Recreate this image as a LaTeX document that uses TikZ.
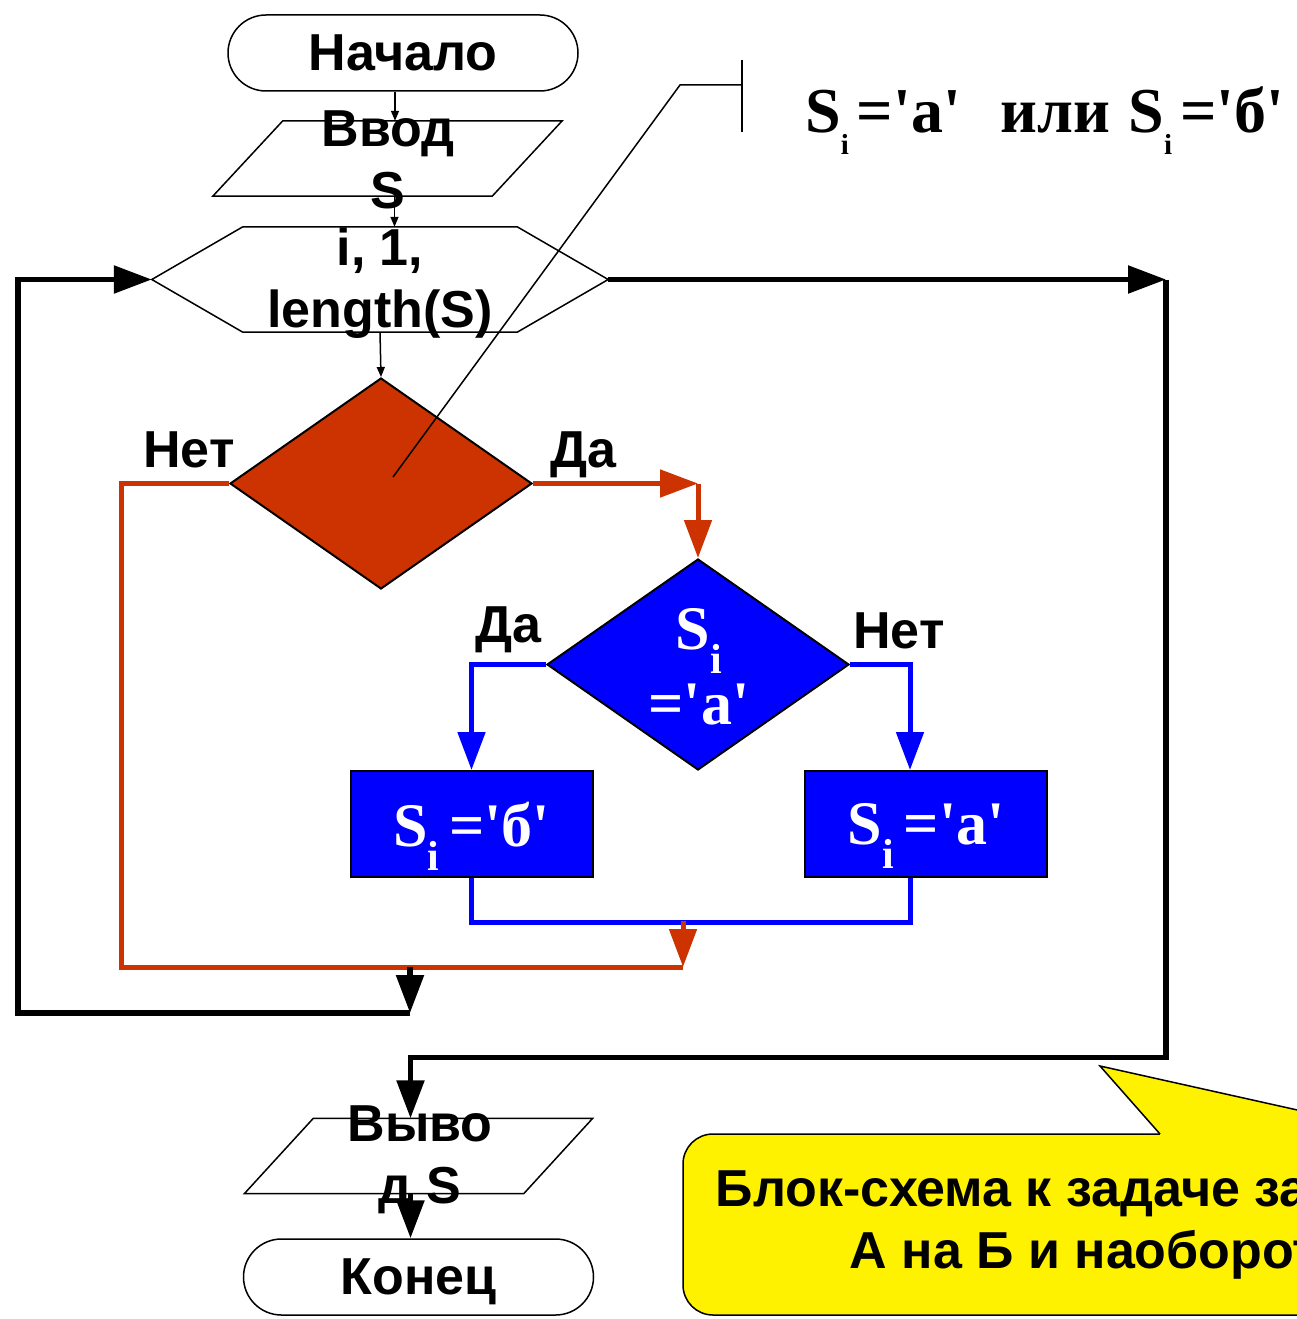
\documentclass[tikz,border=0pt]{standalone}
\usepackage{fontspec}
\setmainfont{Liberation Sans}
\newfontfamily\timesb{Liberation Serif}[Ligatures=TeXOff]
\usetikzlibrary{arrows.meta,shapes.geometric,shapes.misc,calc}
\definecolor{flowred}{HTML}{CC3300}
\definecolor{flowblue}{HTML}{0000FF}
\newcommand{\idx}[2]{\raisebox{-#2pt}{\fontsize{#1}{#1}\selectfont i}}

\begin{document}
\begin{tikzpicture}[
  x=1pt, y=-1pt,
  >={Triangle[length=38pt,width=27pt]},
  every node/.style={font=\bfseries\fontsize{52}{62}\selectfont, inner sep=0pt},
  terminal/.style={rounded rectangle, draw, line width=1.5pt, minimum width=350pt, minimum height=76pt, text depth=0pt},
  io/.style={rectangle, minimum width=279pt, minimum height=75pt},
  loopbox/.style={rectangle, minimum width=456pt, minimum height=105pt},
  outline/.style={line width=1.5pt},
  decision/.style={diamond, draw, line width=2pt, inner sep=2pt, minimum width=302pt, minimum height=211pt},
  action/.style={rectangle, draw, line width=2pt, fill=flowblue, minimum width=242pt, minimum height=106pt, text=white, font=\timesb\bfseries\fontsize{62}{75}\selectfont, text depth=0pt},
  wtext/.style={text=white, align=center, font=\timesb\bfseries\fontsize{62}{75}\selectfont},
  btext/.style={align=center},
  memo/.style={rectangle, rounded corners=30pt, draw, line width=1.5pt, fill=yellow, minimum width=802pt, minimum height=181pt, align=center},
  thinflow/.style={line width=1.5pt, -{Triangle[length=10pt,width=8pt]}},
  mainflow/.style={line width=5.5pt},
  noflow/.style={line width=5pt, draw=flowred, color=flowred},
  inflow/.style={line width=5pt, draw=flowblue, color=flowblue}
]
\clip (0,0) rectangle (1297,1319);

% blocks
\node[terminal] (start) at (403,53) {Начало};
\node[io] (inp) at (387.5,158.5) {};
\draw[outline] ([xshift=35pt]inp.north west) -- ([xshift=35pt]inp.north east)
  -- ([xshift=-35pt]inp.south east) -- ([xshift=-35pt]inp.south west) -- cycle;
\node[btext] (inptxt) at (388,160) {Ввод\\S};
\node[loopbox] (loop) at (380,279.5) {};
\draw[outline] ([xshift=91pt]loop.north west) -- ([xshift=-91pt]loop.north east) -- (loop.east)
  -- ([xshift=-91pt]loop.south east) -- ([xshift=91pt]loop.south west) -- (loop.west) -- cycle;
\node[btext] (looptxt) at (380,283) {i, 1,\\length(S)};
\node[decision, fill=flowred] (cond) at (381,483.5) {};
\node[decision, fill=flowblue] (cond2) at (698,664.5) {};
\node[wtext] (cond2txt) at (699,667) {S\idx{42}{24}\\='a'};
\node[action] (yes) at (471.5,824) {S\idx{42}{24}\hspace{10pt}='б'};
\node[action] (no) at (926,824) {S\idx{42}{24}\hspace{10pt}='a'};
\node[io] (out) at (418.5,1156) {};
\draw[outline] ([xshift=34.5pt]out.north west) -- ([xshift=34.5pt]out.north east)
  -- ([xshift=-34.5pt]out.south east) -- ([xshift=-34.5pt]out.south west) -- cycle;
\node[btext] (outtxt) at (420,1160) {Выво\\д S};
\node[terminal] (end) at (418.5,1277) {Конец};

% branch labels
\node[anchor=base] (no1) at (189,467) {Нет};
\node[anchor=base] (yes1) at (583,467) {Да};
\node[anchor=base] (yes2) at (508,642) {Да};
\node[anchor=base] (no2) at (899,648) {Нет};

% condition note
\node[anchor=base west, font=\timesb\bfseries\fontsize{64}{64}\selectfont] (note) at (805,132)
  {S\idx{29}{22}\hspace{8pt}='a'\hspace{40pt}или\hspace{18pt}S\idx{29}{22}\hspace{8pt}='б'};
\coordinate (mark) at (393,477);
\draw[outline] (mark) -- (680,85) -- (742,85);
\draw[outline] (742,60) -- (742,132);

% thin arrows
\draw[thinflow] ([xshift=-8pt]start.south) -- ([xshift=-8pt]start.south |- inp.north);
\draw[thinflow] ([xshift=7pt]inp.south) -- ([xshift=7pt]inp.south |- loop.north);
\draw[thinflow] (loop.south) -- (cond.north);

% red branch
\coordinate (merge) at (683,967);
\coordinate (bluejoin) at (683,921);
\draw[noflow,->] (cond.east) -- (cond.east -| cond2.north);
\draw[noflow,->] (cond.east -| cond2.north) -- (cond2.north);
\draw[noflow] (cond.west) -- ++(-108,0) |- (merge);

% blue branch
\draw[inflow,->] (cond2.west) -| (yes.north);
\draw[inflow,->] (cond2.east) -| ([xshift=-16pt]no.north);
\draw[inflow] (yes.south) -- ++(0,44) -| ([xshift=-16pt]no.south);
\draw[noflow,->] (bluejoin) -- (merge);

% loop
\coordinate (back) at (410,1013);
\coordinate (exitpt) at (1166,279.5);
\draw[mainflow,->] (merge -| back) -- (back);
\draw[mainflow,->] (back) -- ++(-392,0) |- (loop.west);
\draw[mainflow,->] (loop.east) -- (exitpt);
\draw[mainflow,->] (exitpt) -- ++(0,778) -| ([xshift=-8pt]out.north);
\draw[mainflow,->] ([xshift=-8pt]out.south) -- ([xshift=-8pt]end.north);

% memo
\node[memo] (memo) at (1084,1224.5) {Блок-схема к задаче замены\\А на Б и наоборот};
\fill[yellow] (1160,1137) -- (1160,1134) -- (1100,1066) -- (1405,1134) -- (1405,1137) -- cycle;
\draw[outline] (1160,1134) -- (1100,1066) -- (1405,1134);
\end{tikzpicture}
\end{document}
